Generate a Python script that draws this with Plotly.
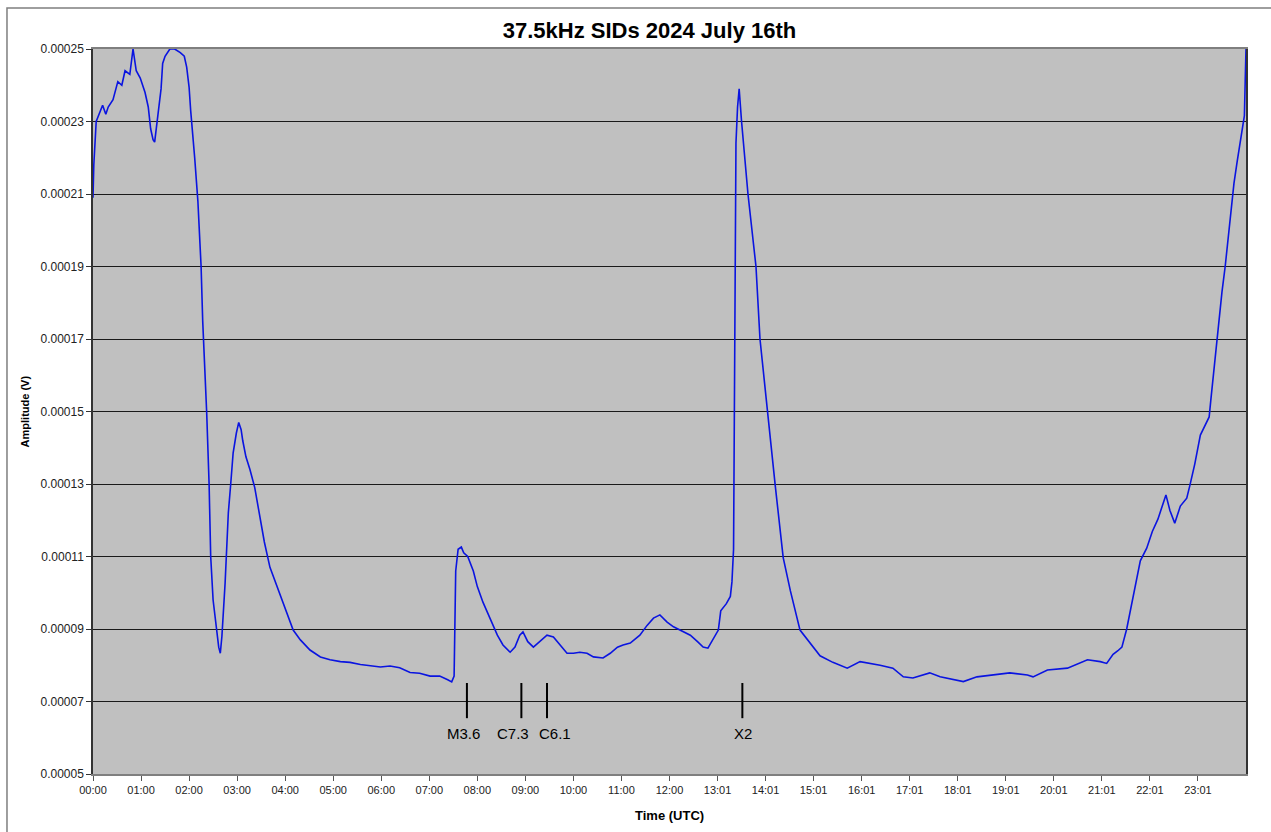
import plotly.graph_objects as go

# time in minutes after 00:00 UTC, amplitude in units of 1e-5 V
time_min = [0, 1, 4, 9, 12, 16, 19, 25, 31, 36, 40, 46, 50, 54, 59, 65, 69, 72, 75, 77,
            81, 85, 87, 90, 96, 102, 109, 114, 117, 120, 122, 125, 127, 131, 135, 137, 140, 142, 145, 147,
            150, 154, 157, 159, 161, 165, 169, 172, 175, 179, 182, 185, 187, 191, 196, 202, 207, 214, 221, 230,
            240, 250, 259, 271, 284, 296, 309, 321, 334, 346, 359, 371, 383, 396, 408, 421, 433, 443, 448, 451,
            452, 453, 456, 460, 463, 468, 475, 480, 487, 496, 505, 512, 521, 527, 533, 537, 543, 550, 558, 567,
            575, 583, 592, 600, 608, 617, 625, 637, 646, 655, 662, 671, 683, 692, 700, 708, 717, 725, 733, 746,
            755, 762, 768, 774, 781, 784, 791, 796, 798, 800, 801, 802, 803, 805, 807, 810, 818, 824, 828, 833,
            838, 843, 852, 862, 871, 883, 896, 908, 924, 942, 958, 979, 983, 999, 1012, 1024, 1045, 1058, 1074, 1087,
            1104, 1124, 1145, 1167, 1174, 1192, 1217, 1242, 1258, 1266, 1274, 1280, 1285, 1291, 1299, 1308, 1316, 1323, 1330, 1336,
            1340, 1345, 1351, 1358, 1366, 1370, 1376, 1383, 1390, 1394, 1396, 1400, 1404, 1410, 1414, 1420, 1425, 1429, 1433, 1438,
            1439, 1440]
amp_e5 = [20.9, 21.8, 23.0, 23.3, 23.45, 23.2, 23.4, 23.6, 24.1, 24.0, 24.4, 24.3, 25.0, 24.4, 24.2, 23.8, 23.4, 22.8, 22.5, 22.43,
          23.1, 23.9, 24.6, 24.8, 25.0, 25.0, 24.9, 24.8, 24.5, 23.95, 23.3, 22.6, 22.0, 20.8, 19.0, 17.5, 16.2, 14.96, 13.0, 11.0,
          9.8, 8.97, 8.5, 8.33, 8.8, 10.27, 12.2, 13.0, 13.85, 14.4, 14.7, 14.5, 14.2, 13.75, 13.4, 12.9, 12.3, 11.4, 10.7, 10.16,
          9.6, 8.97, 8.7, 8.42, 8.23, 8.15, 8.1, 8.08, 8.02, 7.98, 7.95, 7.98, 7.93, 7.8, 7.78, 7.7, 7.7, 7.6, 7.54, 7.7,
          9.25, 10.6, 11.2, 11.26, 11.1, 11.0, 10.6, 10.17, 9.74, 9.3, 8.83, 8.56, 8.36, 8.5, 8.83, 8.92, 8.65, 8.5, 8.65, 8.83,
          8.78, 8.56, 8.33, 8.33, 8.36, 8.33, 8.23, 8.2, 8.33, 8.5, 8.56, 8.61, 8.83, 9.1, 9.3, 9.39, 9.19, 9.06, 8.97, 8.83,
          8.65, 8.5, 8.47, 8.7, 8.97, 9.5, 9.7, 9.9, 10.3, 11.2, 14.5, 19.0, 22.4, 23.4, 23.9, 23.0, 21.0, 19.8, 19.0, 17.0,
          15.9, 14.97, 12.97, 10.97, 10.05, 8.97, 8.6, 8.26, 8.08, 7.92, 8.1, 8.02, 8.0, 7.92, 7.68, 7.65, 7.79, 7.68, 7.6, 7.55,
          7.68, 7.73, 7.79, 7.73, 7.68, 7.87, 7.92, 8.15, 8.1, 8.05, 8.3, 8.4, 8.5, 9.0, 9.9, 10.88, 11.23, 11.69, 12.03, 12.4,
          12.7, 12.27, 11.92, 12.39, 12.61, 12.97, 13.55, 14.35, 14.7, 14.85, 15.3, 16.2, 17.13, 18.3, 19.0, 20.26, 21.3, 21.9, 22.46, 23.16,
          24.1, 25.0]

tick_minutes = [h * 60 for h in range(24)]
tick_labels = ["00:00", "01:00", "02:00", "03:00", "04:00", "05:00", "06:00", "07:00",
               "08:00", "09:00", "10:00", "11:00", "12:00", "13:01", "14:01", "15:01",
               "16:01", "17:01", "18:01", "19:01", "20:01", "21:01", "22:01", "23:01"]
y_ticks = [0.00005, 0.00007, 0.00009, 0.00011, 0.00013, 0.00015, 0.00017, 0.00019, 0.00021, 0.00023, 0.00025]

flare_min = [467, 535, 567, 811]
flare_labels = ["M3.6", "C7.3", "C6.1", "X2"]
flare_low, flare_high, flare_text_y = 0.0000654, 0.0000751, 0.0000613
label_xshift = [-3, -8, 8, 1]

amp = [v * 1e-5 for v in amp_e5]
FONT = "Liberation Sans, Arial, sans-serif"

fig = go.Figure()
fig.add_trace(go.Scatter(x=time_min, y=amp, mode="lines",
                         line=dict(color="#0a14e0", width=1.6), showlegend=False))

for t, lab, dx in zip(flare_min, flare_labels, label_xshift):
    fig.add_shape(type="line", xref="x", yref="y", x0=t, x1=t, y0=flare_low, y1=flare_high,
                  line=dict(color="black", width=2))
    fig.add_annotation(x=t, y=flare_text_y, xref="x", yref="y", text=lab, showarrow=False,
                       xshift=dx, font=dict(family=FONT, size=15, color="black"))

# outer chart border
fig.add_shape(type="rect", xref="paper", yref="paper", x0=-0.0746, x1=1.2, y0=-0.3, y1=1.0566,
              line=dict(color="#7f7f7f", width=1.5), fillcolor="rgba(0,0,0,0)", layer="below")

fig.add_annotation(text="<b>Amplitude (V)</b>", xref="paper", yref="paper", x=-0.066, y=0.5,
                   textangle=-90, showarrow=False, font=dict(family=FONT, size=11, color="black"))
fig.add_annotation(text="<b>Time (UTC)</b>", xref="paper", yref="paper", x=0.5, y=-0.057,
                   yanchor="middle", showarrow=False, font=dict(family=FONT, size=13, color="black"))

fig.update_layout(
    width=1271, height=832,
    margin=dict(l=93, r=25, t=49, b=58),
    paper_bgcolor="white", plot_bgcolor="#c0c0c0",
    title=dict(text="<b>37.5kHz SIDs 2024 July 16th</b>", x=0.511, xanchor="center",
               xref="container", y=0.964, yanchor="middle",
               font=dict(family=FONT, size=22, color="black")),
    xaxis=dict(range=[0, 1440], tickvals=tick_minutes, ticktext=tick_labels,
               ticks="outside", ticklen=5, tickcolor="#555555", showgrid=False, zeroline=False,
               showline=True, linecolor="#7f7f7f", linewidth=1.5, mirror=True,
               tickfont=dict(family=FONT, size=11, color="#222222")),
    yaxis=dict(range=[0.00005, 0.00025], tickvals=y_ticks, tickformat=".5f",
               ticks="outside", ticklen=5, tickcolor="#333333", showgrid=True, gridcolor="#1a1a1a",
               gridwidth=1, zeroline=False, showline=True, linecolor="#333333", linewidth=1.5,
               mirror=True, tickfont=dict(family=FONT, size=12, color="#222222")),
)

fig.write_html("out.html")
